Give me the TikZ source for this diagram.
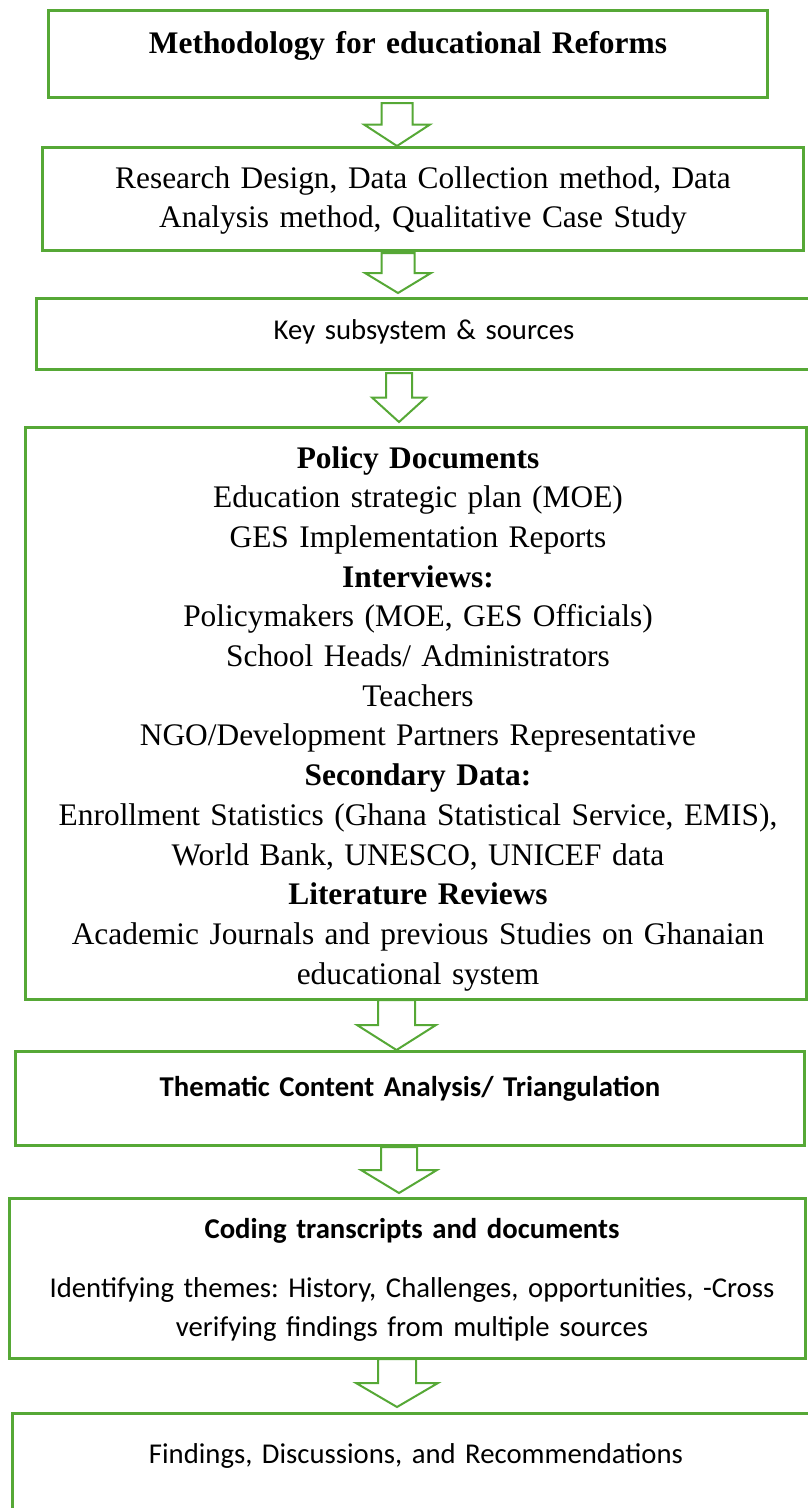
\documentclass[tikz,border=0pt]{standalone}
\usepackage{fontspec}
\setmainfont{Liberation Serif}
\newfontfamily\calibri{Carlito}
\usetikzlibrary{calc}
\definecolor{flowgreen}{RGB}{86,168,54}
\frenchspacing

\tikzset{
  box/.style={draw=flowgreen, line width=3pt, rectangle, inner sep=0pt, outer sep=0pt, anchor=north west},
  serif/.style={font=\fontsize{31.4}{39.7}\selectfont, text width=780pt, align=center, inner sep=0pt, anchor=base},
  sans/.style={font=\calibri\fontsize{28.7}{39}\selectfont, text width=780pt, align=center, inner sep=0pt, anchor=base},
  hollow/.style={draw=flowgreen, line width=2pt, fill=white, line join=miter},
}

% hollow arrow: from, to, x, shaft half width, head half width, top gap, tip gap
\newcommand{\hollowarrow}[7]{%
  \draw[hollow] let \p1=(#1.south), \p2=(#2.north),
      \n1={\y1-#6pt}, \n2={\y2+#7pt}, \n3={(\n1+\n2)/2} in
    ({#3-#4},\n1) -- ({#3+#4},\n1) -- ({#3+#4},\n3) -- ({#3+#5},\n3)
    -- (#3,\n2) -- ({#3-#5},\n3) -- ({#3-#4},\n3) -- cycle;
}

\begin{document}
\begin{tikzpicture}[x=1pt, y=1pt]
    \useasboundingbox (0,0) rectangle (807,-1508);

    % boxes
    \node[box, minimum width=719pt, minimum height=87pt] (method) at (48,-10) {};
    \node[box, minimum width=761pt, minimum height=103pt] (design) at (42,-147) {};
    \node[box, minimum width=776pt, minimum height=71pt] (sources) at (36,-298) {};
    \node[box, minimum width=781pt, minimum height=572pt] (evidence) at (25,-427) {};
    \node[box, minimum width=789pt, minimum height=94pt] (analysis) at (15,-1051) {};
    \node[box, minimum width=796pt, minimum height=160pt] (coding) at (9,-1198) {};
    \node[box, minimum width=800pt, minimum height=110pt] (findings) at (12,-1413) {};

    % texts
    \node[serif] (method-txt) at (408,-53) {\textbf{Methodology for educational Reforms}};
    \node[serif] (design-txt) at (423,-188) {Research Design, Data Collection method, Data\\
        Analysis method, Qualitative Case Study};
    \node[sans] (sources-txt) at (424,-339) {Key subsystem \& sources};
    \node[serif] (evidence-txt) at (418,-468) {\textbf{Policy Documents}\\
        Education strategic plan (MOE)\\
        GES Implementation Reports\\
        \textbf{Interviews:}\\
        Policymakers (MOE, GES Officials)\\
        School Heads/ Administrators\\
        Teachers\\
        NGO/Development Partners Representative\\
        \textbf{Secondary Data:}\\
        Enrollment Statistics (Ghana Statistical Service, EMIS),\\
        World Bank, UNESCO, UNICEF data\\
        \textbf{Literature Reviews}\\
        Academic Journals and previous Studies on Ghanaian\\
        educational system};
    \node[sans] (analysis-txt) at (410,-1096) {\textbf{Thematic Content Analysis/ Triangulation}};
    \node[sans] (coding-txt) at (412,-1238) {\textbf{Coding transcripts and documents}\\[20pt]
        Identifying themes: History, Challenges, opportunities, -Cross\\
        verifying findings from multiple sources};
    \node[sans] (findings-txt) at (416,-1463) {Findings, Discussions, and Recommendations};

    % arrows
    \hollowarrow{method}{design}{397}{15.5}{33}{6}{1}
    \hollowarrow{design}{sources}{398}{16.5}{33}{3}{5}
    \hollowarrow{sources}{evidence}{399}{13}{27}{4}{5}
    \hollowarrow{evidence}{analysis}{396.5}{18.5}{39.5}{1}{1}
    \hollowarrow{analysis}{coding}{399}{18}{38}{2}{5}
    \hollowarrow{coding}{findings}{397}{19}{41}{1}{6}
\end{tikzpicture}
\end{document}
